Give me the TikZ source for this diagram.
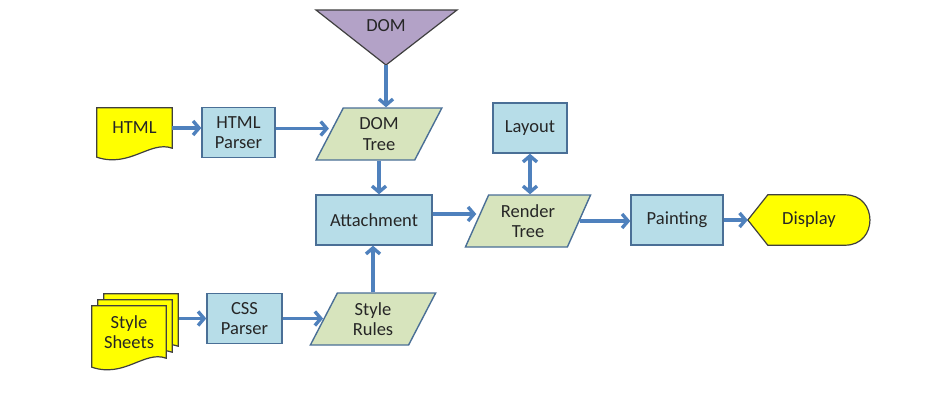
\documentclass[tikz,border=0pt]{standalone}
\usepackage{fontspec}
\setmainfont{Carlito}
\usetikzlibrary{shapes.geometric,arrows.meta,calc,backgrounds}

\definecolor{boxblue}{HTML}{B7DDE8}
\definecolor{boxline}{HTML}{4A6F96}
\definecolor{treegreen}{HTML}{D7E4BD}
\definecolor{domlilac}{HTML}{B3A2C7}
\definecolor{docyellow}{HTML}{FFFF00}
\definecolor{darkline}{HTML}{3F3F3F}
\definecolor{flowblue}{HTML}{4F81BD}
\definecolor{textgray}{HTML}{262626}

\tikzset{
  proc/.style={draw=boxline, line width=1.4pt, fill=boxblue, minimum width=#1, minimum height=50pt, align=center, text=textgray},
  proc/.default=74pt,
  data/.style={trapezium, trapezium left angle=66, trapezium right angle=114, trapezium stretches=true,
    draw=boxline, line width=1.4pt, fill=treegreen, minimum width=126pt, minimum height=52pt, align=center, text=textgray},
  doc/.style={minimum width=#1, minimum height=40pt, inner sep=0pt, align=center, text=textgray},
  docfill/.style={draw=darkline, line width=1.2pt, fill=docyellow},
  flow/.style={draw=flowblue, line width=3.4pt, -{Straight Barb[length=6pt,width=14pt]}},
  flowboth/.style={flow, {Straight Barb[length=6pt,width=14pt]}-{Straight Barb[length=6pt,width=14pt]}}
}

% document outline with a wavy bottom, shifted by (#2,#3)
\newcommand\docpath[3]{($(#1.north west)+(#2,#3)$) -- ($(#1.north east)+(#2,#3)$) -- ($(#1.south east)+(#2,#3)$)
  .. controls ($(#1.south east)+(#2-22,#3-8)$) and ($(#1.south west)+(#2+33,#3+20)$) .. ($(#1.south west)+(#2,#3+9)$) -- cycle}

\begin{document}
\begin{tikzpicture}[x=1pt,y=-1pt,font=\fontsize{18.5}{20.5}\selectfont]
  \useasboundingbox (0,0) rectangle (933,415);

  % top: DOM source
  \node[text=textgray] (dom) at (386,26) {DOM};
  \coordinate (domtip) at (386,65);

  % html branch
  \node[doc=75pt] (html) at (134.5,128) {HTML};
  \node[proc=73pt] (htmlparser) at (238.5,132.5) {HTML\\Parser};
  \node[data] (domtree) at (379,134) {DOM\\Tree};

  % css branch
  \node[doc=74pt, minimum height=52pt] (sheets) at (129,332) {Style\\Sheets};
  \node[proc=75pt] (cssparser) at (244.5,318.5) {CSS\\Parser};
  \node[data] (stylerules) at (373,319) {Style\\Rules};

  % middle row
  \node[proc=116pt] (attach) at (374,220) {Attachment};
  \node[data] (render) at (528,221) {Render\\Tree};
  \node[proc] (layout) at (530,128) {Layout};
  \node[proc=92pt] (paint) at (677,220) {Painting};
  \node[minimum width=122pt, minimum height=50pt, inner sep=0pt, text=textgray] (display) at (809,220) {Display};

  \begin{scope}[on background layer]
    \filldraw[draw=darkline, line width=1.2pt, fill=domlilac] (316,10) -- (457,10) -- (domtip) -- cycle;
    \filldraw[docfill] \docpath{html}{0}{0};
    \foreach \d in {12,6,0}
      \filldraw[docfill] \docpath{sheets}{\d}{-\d};
    \filldraw[docfill] (display.west) -- ($(display.north west)+(20,0)$) -- ($(display.north east)+(-25,0)$)
      .. controls ($(display.north east)+(8,0)$) and ($(display.south east)+(8,0)$) .. ($(display.south east)+(-25,0)$)
      -- ($(display.south west)+(20,0)$) -- cycle;
  \end{scope}

  % connectors
  \draw[flow] (domtip) -- (domtip |- domtree.north);
  \draw[flow] (html.east) -- (html.east -| htmlparser.west);
  \coordinate (p1) at ($(htmlparser.east)+(0,-4)$);
  \draw[flow] (p1) -- (p1 -| domtree.west);
  \draw[flow] (domtree.south) -- (domtree.south |- attach.north);
  \coordinate (s1) at ($(sheets.east |- cssparser.west)+(13,0)$);
  \draw[flow] (s1) -- (cssparser.west);
  \draw[flow] (cssparser.east) -- (cssparser.east -| stylerules.west);
  \draw[flow] (stylerules.north) -- (stylerules.north |- attach.south);
  \coordinate (a1) at ($(attach.east)+(0,-6)$);
  \draw[flow] (a1) -- (a1 -| render.west);
  \draw[flowboth] (layout.south) -- (layout.south |- render.north);
  \draw[flow] (render.east) -- (render.east -| paint.west);
  \draw[flow] (paint.east) -- (display.west);
\end{tikzpicture}
\end{document}
